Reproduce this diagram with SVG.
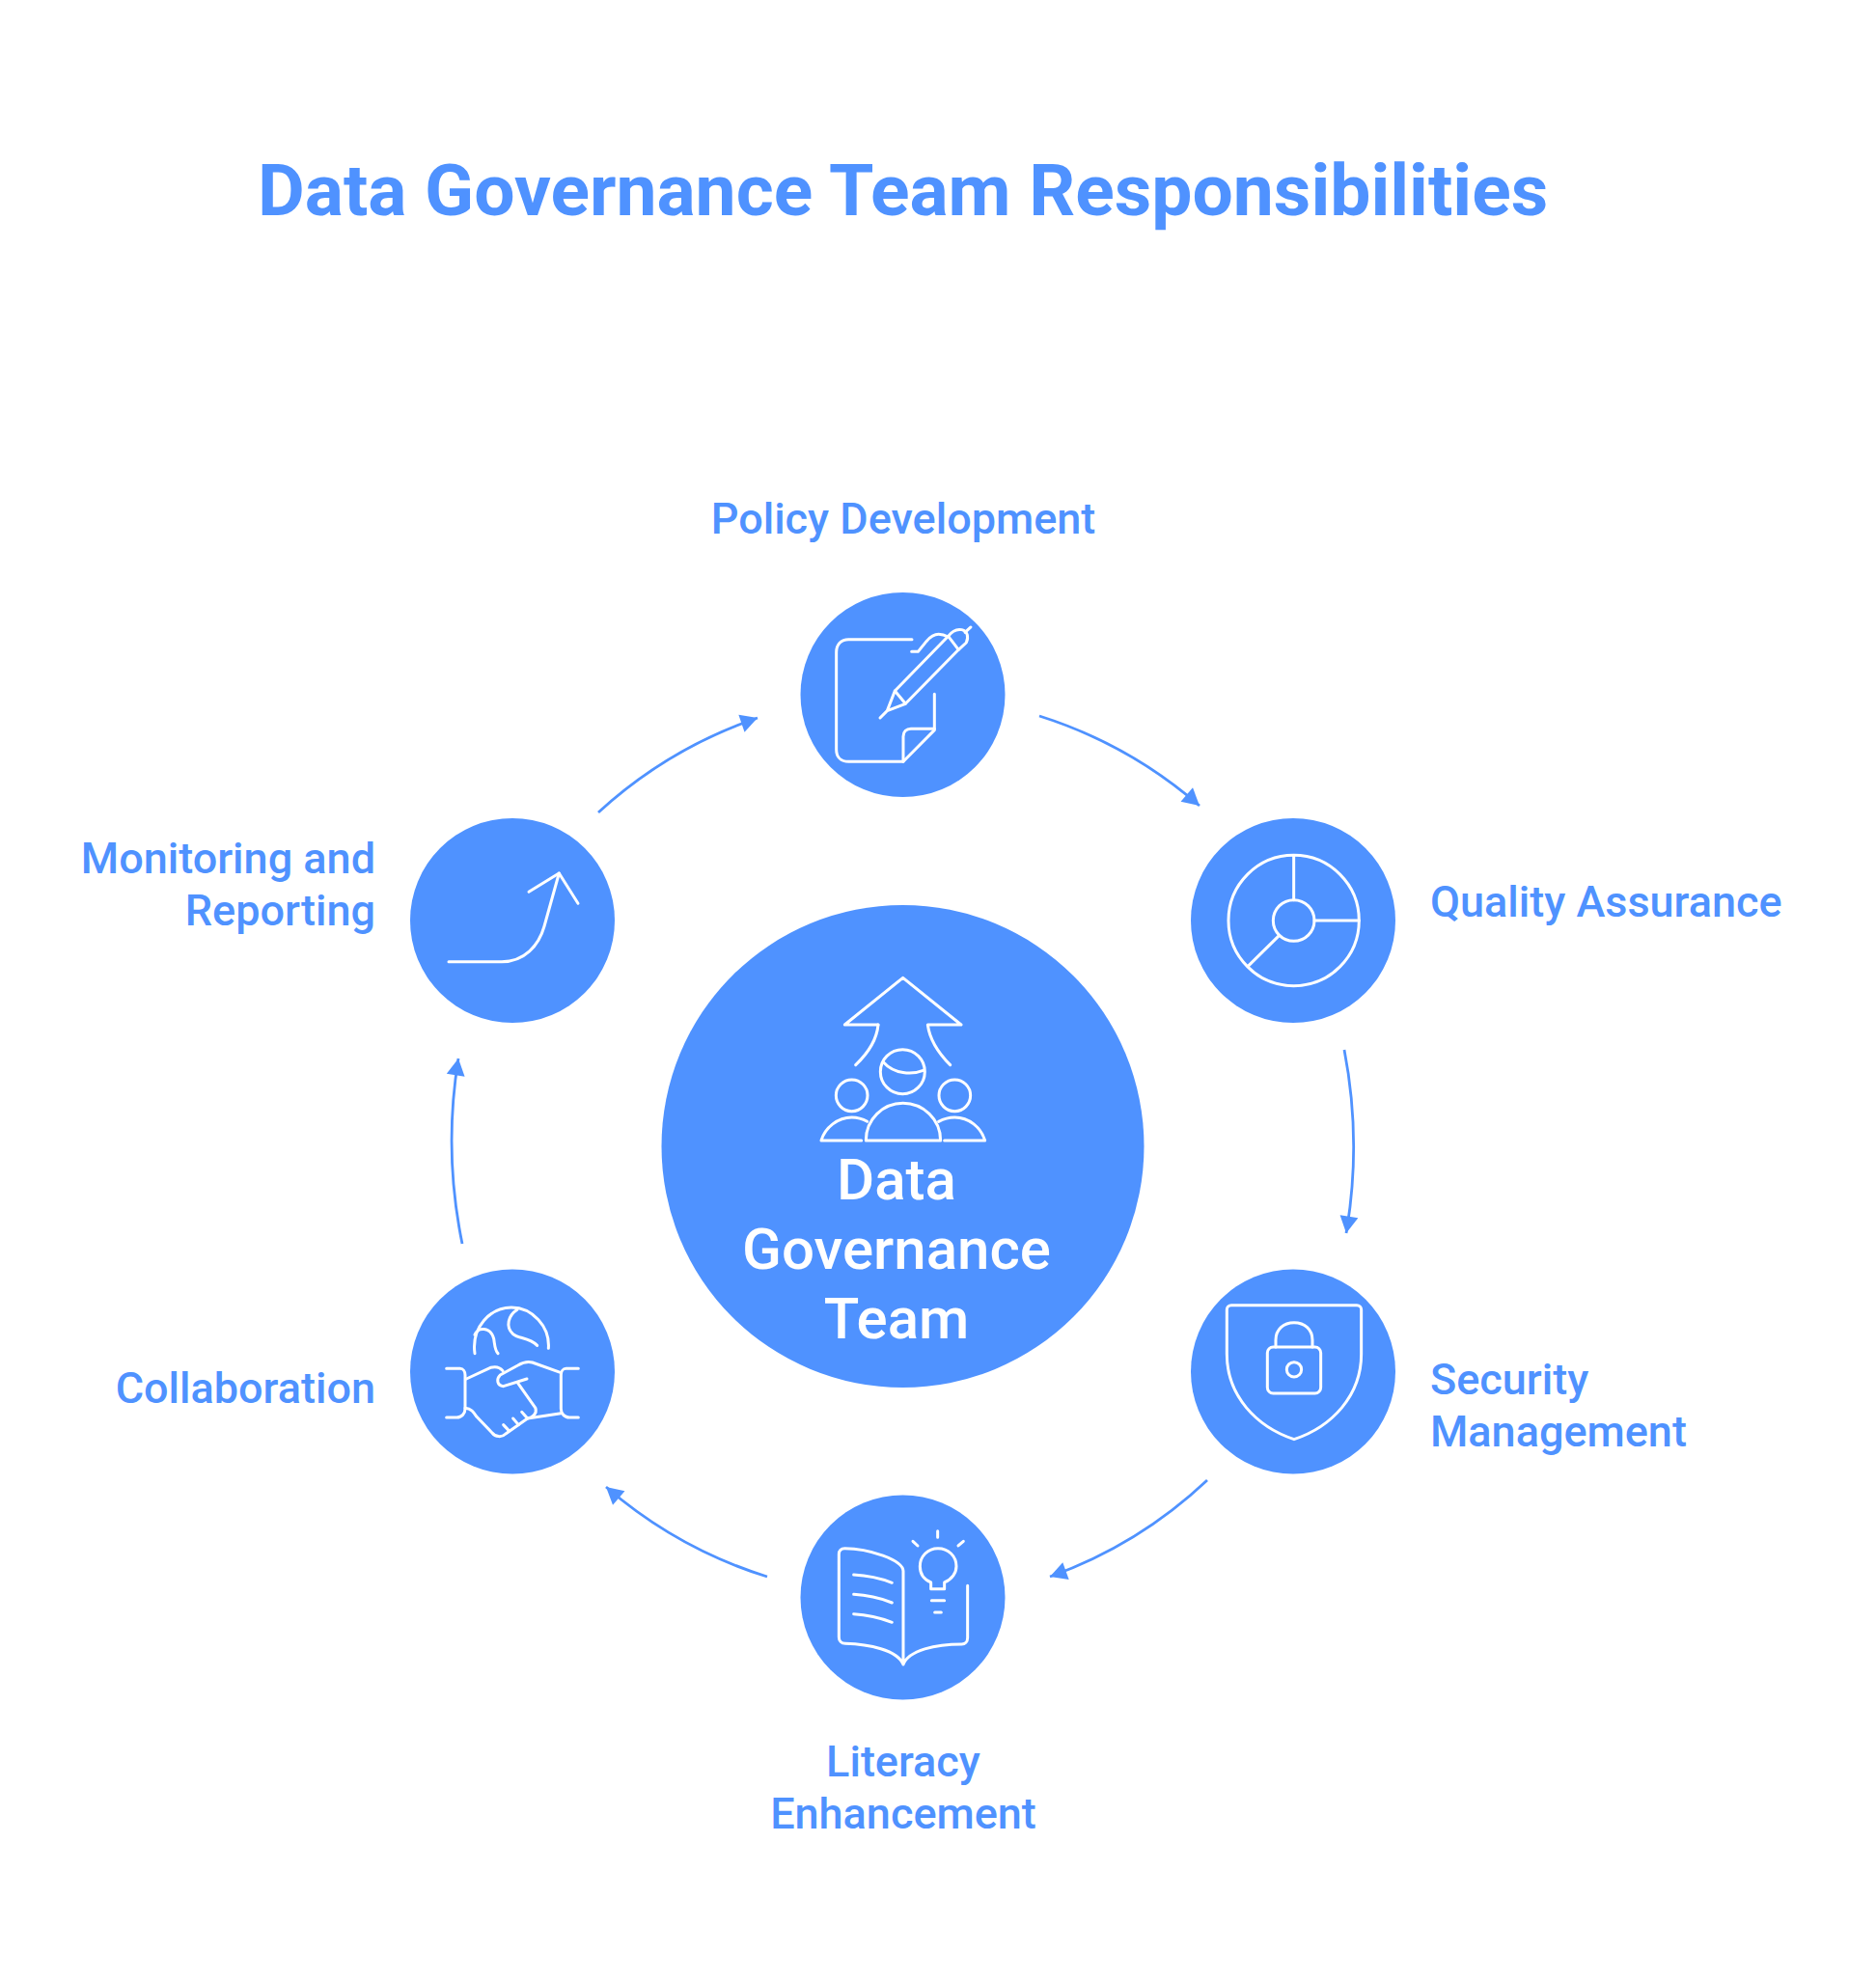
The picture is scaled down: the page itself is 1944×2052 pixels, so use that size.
<svg xmlns="http://www.w3.org/2000/svg" width="1944" height="2052" viewBox="0 0 1944 2052">
<defs>
<style>
text{font-family:Roboto,"Liberation Sans",sans-serif;fill:#4f92ff}
.title{font-size:75px;font-weight:700}
.lab{font-size:45px;font-weight:500}
.mid{text-anchor:middle}
.end{text-anchor:end}
.center{font-size:60px;font-weight:500;fill:#fff;text-anchor:middle}
.disc{fill:#4f92ff}
.ico{fill:none;stroke:#fff;stroke-width:9;stroke-linecap:round;stroke-linejoin:round}
.arc{fill:none;stroke:#4f92ff;stroke-width:2.8}
</style>
<marker id="head" markerUnits="userSpaceOnUse" markerWidth="24" markerHeight="24" refX="20" refY="12" orient="auto">
<path d="M2.5 2.5L20 12L2.5 21.5Z" fill="#4f92ff"/>
</marker>
</defs>
<rect width="1944" height="2052" fill="#fff"/>
<text id="title" class="title" x="267" y="223">Data Governance Team Responsibilities</text>
<g id="connectors">
<path class="arc" marker-end="url(#head)" d="M1077 742A468 468 0 0 1 1243 835"/>
<path class="arc" marker-end="url(#head)" d="M1393 1088A530 530 0 0 1 1395 1278"/>
<path class="arc" marker-end="url(#head)" d="M1251 1534A468 468 0 0 1 1088 1634"/>
<path class="arc" marker-end="url(#head)" d="M795 1634A468 468 0 0 1 628 1541"/>
<path class="arc" marker-end="url(#head)" d="M479 1289A530 530 0 0 1 475 1097"/>
<path class="arc" marker-end="url(#head)" d="M620 842A468 468 0 0 1 785 744"/>
</g>
<g id="node-center">
<circle class="disc" cx="935.5" cy="1188" r="250"/>
<g class="ico" transform="translate(820 980) scale(.3333)">
<path d="M270 246H166L347 100L528 246H424C430 290 458 335 494 371"/>
<path d="M270 246C266 290 238 335 200 371"/>
<circle cx="346" cy="392" r="69"/>
<path d="M286 362C320 400 375 402 410 388"/>
<circle cx="188" cy="466" r="49"/>
<circle cx="508" cy="466" r="49"/>
<path d="M232 606C232 540 285 490 347 490C410 490 464 540 464 606Z"/>
<path d="M218 606H93C105 565 145 534 188 534C207 534 222 539 236 547"/>
<path d="M476 606H602C590 565 552 534 508 534C489 534 473 539 458 547"/>
</g>
<text class="center" x="929" y="1243">Data</text>
<text class="center" x="929" y="1315">Governance</text>
<text class="center" x="929" y="1387">Team</text>
</g>
<g id="node-policy">
<circle class="disc" cx="935.5" cy="720" r="106"/>
<g class="ico" transform="translate(780 580) scale(.3333)">
<path d="M495 248H298C275 248 260 264 260 288V590C260 614 275 628 298 628H468L565 530V418"/>
<path d="M468 628V550C468 535 478 526 492 526H565"/>
<path d="M396 492L418 470L475 448L640 280L664 258C672 240 668 222 650 218C636 215 620 222 608 238L442 408L418 470"/>
<path d="M442 408L475 448"/>
<path d="M608 238L640 280"/>
<path d="M494 286H514L540 254C552 240 565 232 578 232C590 232 600 236 608 240"/>
<path d="M660 226L678 210"/>
</g>
<text class="lab mid" x="936" y="553">Policy Development</text>
</g>
<g id="node-quality">
<circle class="disc" cx="1340" cy="954" r="106"/>
<g class="ico" transform="translate(1200 820) scale(.3333)">
<circle cx="422" cy="402" r="203"/>
<circle cx="422" cy="402" r="64"/>
<path d="M422 200V338M486 402H625M377 448L282 542"/>
</g>
<text class="lab" x="1482" y="950">Quality Assurance</text>
</g>
<g id="node-security">
<circle class="disc" cx="1340" cy="1421.5" r="106"/>
<g class="ico" transform="translate(1200 1290) scale(.3333)">
<path d="M228 188H618C626 188 632 194 632 202V340C632 470 540 566 423 605C306 566 214 470 214 340V202C214 194 220 188 228 188Z"/>
<rect x="340" y="318" width="166" height="144" rx="18"/>
<path d="M366 318V296C366 264 390 242 423 242C456 242 480 264 480 296V318"/>
<circle cx="423" cy="388" r="23"/>
</g>
<text class="lab" x="1482" y="1445">Security</text>
<text class="lab" x="1482" y="1499">Management</text>
</g>
<g id="node-literacy">
<circle class="disc" cx="935.5" cy="1655.5" r="106"/>
<g class="ico" transform="translate(800 1520) scale(.3333)">
<path d="M408 615V325C408 290 300 254 226 254C215 254 208 262 208 272V530C208 542 216 550 228 550C300 552 390 570 408 615C425 570 510 552 590 552C600 552 608 545 608 532V370"/>
<path d="M254 336C295 338 335 346 373 361"/>
<path d="M254 397C295 399 335 408 373 423"/>
<path d="M254 458C295 460 335 469 373 484"/>
<path d="M494 380V360C470 350 460 330 460 310C460 278 485 254 516 254C548 254 573 278 573 310C573 330 560 350 536 360V380Z"/>
<path d="M496 416H536M506 453H526M515 200V220M438 232L453 246M595 232L579 246"/>
</g>
<text class="lab mid" x="936" y="1841">Literacy</text>
<text class="lab mid" x="936" y="1895">Enhancement</text>
</g>
<g id="node-collab">
<circle class="disc" cx="531" cy="1421.5" r="106"/>
<g class="ico" transform="translate(420 1300) scale(.3333)">
<path d="M216 308C205 225 265 165 330 165C395 165 450 225 445 292"/>
<path d="M216 250C225 225 265 225 275 262C278 280 278 298 288 308"/>
<path d="M348 172C320 190 310 225 335 248C350 262 385 258 410 283"/>
<path d="M128 355H170C180 355 186 365 186 375V480C186 495 175 507 160 507H128"/>
<path d="M538 355H500C490 355 484 365 484 375V480C484 495 495 507 510 507H538"/>
<path d="M190 387L265 352C280 348 295 352 303 362"/>
<path d="M484 368L395 336C380 332 365 336 350 345L295 375C282 388 285 408 305 410L378 387"/>
<path d="M350 400L405 478C410 495 395 508 380 510"/>
<path d="M186 478C205 480 212 490 222 505L270 555C280 568 300 570 312 558L380 510L484 494"/>
<path d="M305 530L322 548M335 510L352 530M362 490L380 510"/>
</g>
<text class="lab end" x="389" y="1454">Collaboration</text>
</g>
<g id="node-monitor">
<circle class="disc" cx="531" cy="954" r="106"/>
<g class="ico" transform="translate(420 840) scale(.3333)">
<path d="M135 470H300C370 470 415 420 432 360L478 195"/>
<path d="M384 253L478 195L537 289"/>
</g>
<text class="lab end" x="389" y="905">Monitoring and</text>
<text class="lab end" x="389" y="959">Reporting</text>
</g>
</svg>
